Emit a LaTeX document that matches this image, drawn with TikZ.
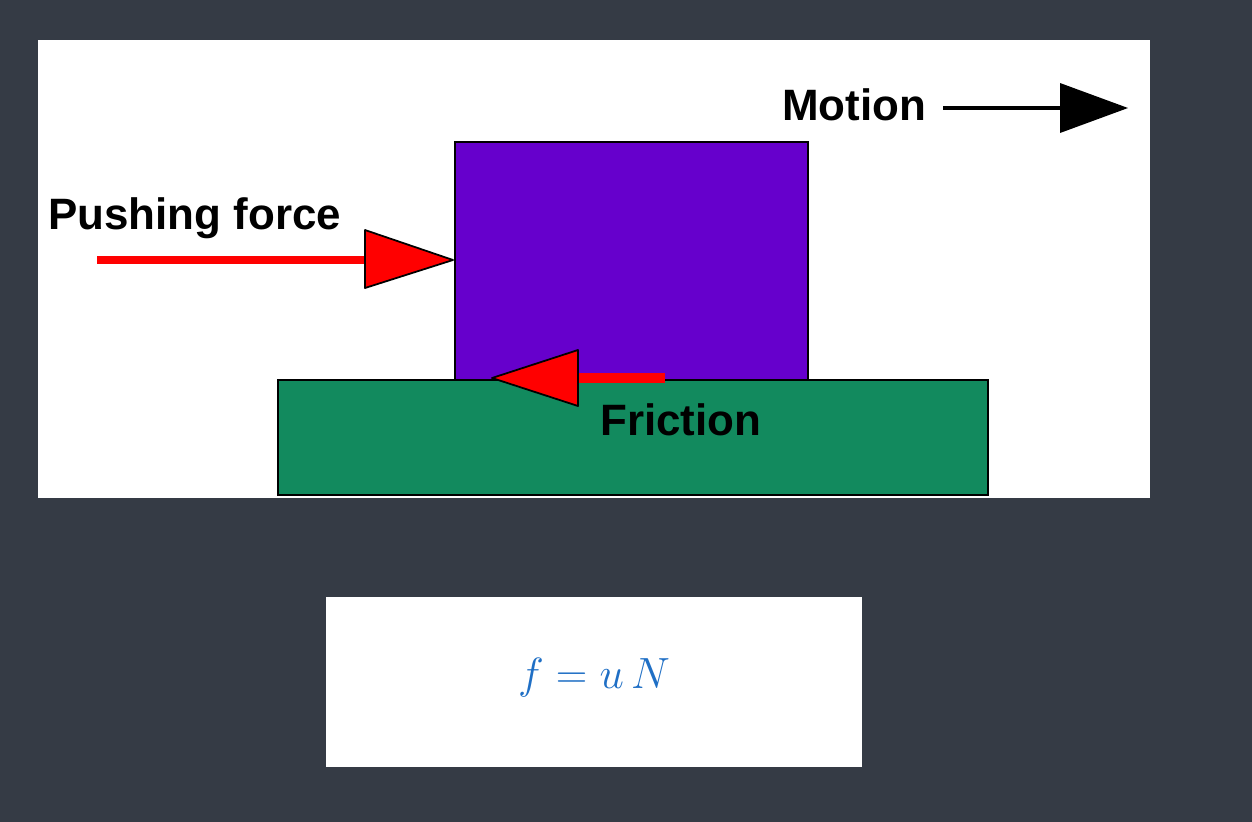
\documentclass[tikz,border=0pt]{standalone}
\usepackage{fontspec}
\setsansfont{Liberation Sans}
\begin{document}
\begin{tikzpicture}[x=0.02cm,y=-0.02cm,
 lbl/.style={font=\sffamily\bfseries\fontsize{25}{25}\selectfont,inner sep=0},
 tri/.style={draw=black,line width=1pt,line join=round}]
\definecolor{bg}{HTML}{353B45}
\definecolor{purp}{HTML}{6600CC}
\definecolor{grn}{HTML}{128A5E}
\definecolor{fblue}{HTML}{1F6FC5}
\fill[bg] (0,0) rectangle (1252,822);
\useasboundingbox (0,0) rectangle (1252,822);
\fill[white] (38,40) rectangle (1150,498);
\draw[fill=grn,line width=1pt] (278,380) rectangle (988,495);
\draw[fill=purp,line width=1pt] (455,142) rectangle (808,380);
\node[lbl,anchor=west] (motion) at (782,105) {Motion};
\coordinate (m1) at (943,108);
\coordinate (m2) at (1060,108);
\draw[line width=2.5pt] (m1) -- (m2);
\fill (1060,83) -- (1128,108) -- (1060,133) -- cycle;
\node[lbl,anchor=west] (push) at (48,218) {Pushing force};
\coordinate (p1) at (97,260);
\coordinate (p2) at (365,260);
\draw[red,line width=5pt] (p1) -- (p2);
\draw[tri,fill=red] (365,230) -- (453,260) -- (365,288) -- cycle;
\coordinate (f1) at (665,378);
\coordinate (f2) at (578,378);
\draw[red,line width=6pt] (f1) -- (f2);
\draw[tri,fill=red] (578,350) -- (492,378) -- (578,406) -- cycle;
\node[lbl,anchor=west] (fric) at (600,420) {Friction};
\fill[white] (326,597) rectangle (862,767);
\node[text=fblue,font=\fontsize{85}{85}\selectfont] (eq) at (594,678) {$f = u\,N$};
\end{tikzpicture}
\end{document}
